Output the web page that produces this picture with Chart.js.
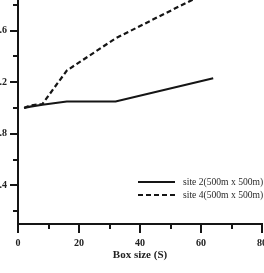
<!DOCTYPE html>
<html>
<head>
<meta charset="utf-8">
<script src="https://cdn.jsdelivr.net/npm/chart.js@4.4.1/dist/chart.umd.min.js"></script>
<style>
  html, body { margin: 0; padding: 0; background: #fff; overflow: hidden; }
  body { width: 264px; height: 273px; position: relative; }
  #wrap { position: absolute; left: -12px; top: -30px; width: 300px; height: 310px; }
</style>
</head>
<body>
<div id="wrap"><canvas id="fractalChart"></canvas></div>
<script>
// box sizes (S) and the two series
const boxSizes = [2, 4, 8, 16, 32, 64];
const site2 = [1.0, 1.01, 1.025, 1.05, 1.05, 1.23];
const site4 = [1.0, 1.02, 1.03, 1.29, 1.54, 1.92];
const seriesLabels = ['site 2(500m x 500m)', 'site 4(500m x 500m)'];

// axis ticks
const xMajor = 20;
const xMinorTicks = [10, 30, 50, 70];
const yMajor = 0.4;
const yMinorTicks = [0.2, 0.6, 1.0, 1.4, 1.8];

const ink = '#151515';
const serif = '"Liberation Serif", "DejaVu Serif", serif';

function toPoints(values) {
    return boxSizes.map(function(s, i) { return { x: s, y: values[i] }; });
}

// small ticks between the labelled ones
const minorTicks = {
    id: 'minorTicks',
    afterDraw: function(chart) {
        const ctx = chart.ctx;
        const xs = chart.scales.x, ys = chart.scales.y;
        const area = chart.chartArea;
        ctx.save();
        ctx.strokeStyle = ink;
        ctx.lineWidth = 2;
        xMinorTicks.forEach(function(v) {
            const px = Math.round(xs.getPixelForValue(v));
            ctx.beginPath();
            ctx.moveTo(px, area.bottom);
            ctx.lineTo(px, area.bottom + 5);
            ctx.stroke();
        });
        yMinorTicks.forEach(function(v) {
            const py = Math.round(ys.getPixelForValue(v));
            ctx.beginPath();
            ctx.moveTo(area.left, py);
            ctx.lineTo(area.left - 5, py);
            ctx.stroke();
        });
        ctx.restore();
    }
};

// legend inside the plot, lower right
const insideLegend = {
    id: 'insideLegend',
    afterDraw: function(chart) {
        const ctx = chart.ctx;
        const area = chart.chartArea;
        ctx.save();
        ctx.font = '9.6px ' + serif;
        ctx.textBaseline = 'middle';
        ctx.fillStyle = '#2a2a2a';
        chart.data.datasets.forEach(function(ds, i) {
            const y = area.bottom - 42 + i * 13;
            const x0 = area.right - 124;
            ctx.strokeStyle = ds.borderColor;
            ctx.lineWidth = 2;
            ctx.setLineDash(ds.borderDash || []);
            ctx.beginPath();
            ctx.moveTo(x0, y);
            ctx.lineTo(x0 + 37, y);
            ctx.stroke();
            ctx.setLineDash([]);
            ctx.fillText(ds.label, x0 + 45, y);
        });
        ctx.restore();
    }
};

const ctx = document.getElementById('fractalChart').getContext('2d');
const chart = new Chart(ctx, {
    type: 'line',
    data: {
        datasets: [{
            label: seriesLabels[0],
            data: toPoints(site2),
            borderColor: ink,
            borderWidth: 2.2,
            pointRadius: 0,
            fill: false,
            tension: 0
        }, {
            label: seriesLabels[1],
            data: toPoints(site4),
            borderColor: ink,
            borderWidth: 2.2,
            borderDash: [5, 3],
            pointRadius: 0,
            fill: false,
            tension: 0
        }]
    },
    options: {
        responsive: true,
        maintainAspectRatio: false,
        animation: false,
        layout: { padding: { top: 7, right: 26, left: 0, bottom: 0 } },
        plugins: {
            legend: { display: false },
            tooltip: { enabled: false }
        },
        scales: {
            x: {
                type: 'linear',
                min: 0,
                max: 80,
                afterFit: function(s) { s.height = 56; },
                border: { color: ink, width: 2 },
                grid: { drawOnChartArea: false, tickLength: 9, color: ink, lineWidth: 2 },
                ticks: {
                    stepSize: xMajor,
                    padding: 4,
                    color: '#222',
                    font: { family: serif, size: 10, weight: 'bold' }
                },
                title: {
                    display: true,
                    text: 'Box size (S)',
                    color: '#222',
                    font: { family: serif, size: 11, weight: 'bold' },
                    padding: { top: 0, bottom: 18 }
                }
            },
            y: {
                min: 0.1,
                max: 2.0,
                afterFit: function(s) { s.width = 30; },
                border: { color: ink, width: 2 },
                grid: { drawOnChartArea: false, tickLength: 8, color: ink, lineWidth: 2 },
                ticks: {
                    stepSize: yMajor,
                    includeBounds: false,
                    padding: 3,
                    color: '#222',
                    font: { family: serif, size: 10, weight: 'bold' },
                    callback: function(v) { return v.toFixed(1); }
                }
            }
        }
    },
    plugins: [minorTicks, insideLegend]
});
</script>
</body>
</html>
